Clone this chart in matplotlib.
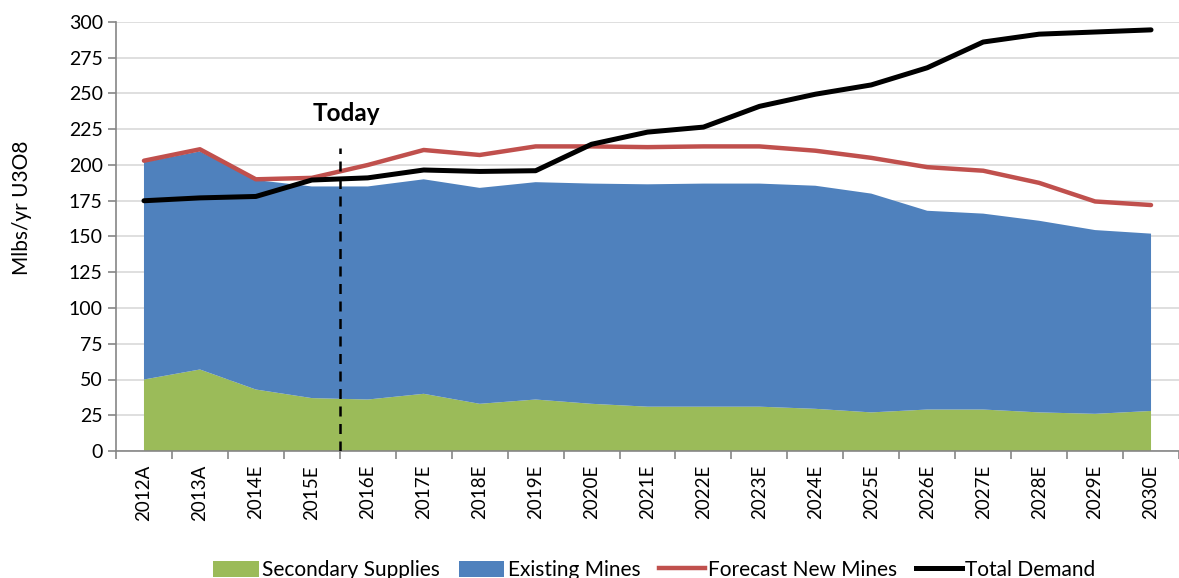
import matplotlib.pyplot as plt
from matplotlib.patches import Patch
from matplotlib.lines import Line2D

years = ["2012A", "2013A", "2014E", "2015E", "2016E", "2017E", "2018E", "2019E", "2020E",
         "2021E", "2022E", "2023E", "2024E", "2025E", "2026E", "2027E", "2028E", "2029E", "2030E"]

secondarySupplies = [50, 57, 43, 37, 36, 40, 33, 36, 33, 31, 31, 31, 29.5, 27, 29, 29, 27, 26, 28]
existingMines = [152, 152.5, 146.5, 148, 149, 150, 151, 152, 154, 155.5, 156, 156, 156, 153, 139, 137, 134, 128.5, 124]
forecastNewMines = [203, 211, 190, 191, 200, 210.5, 207, 213, 213, 212.5, 213, 213, 210, 205, 198.5, 196, 187.5, 174.5, 172]
totalDemand = [175, 177, 178, 189.5, 191, 196.5, 195.5, 196, 214.5, 223, 226.5, 241, 249.5, 256, 268, 286, 291.5, 293, 294.5]

todayPosition = 3.5
todayLabel = "Today"

plt.rcParams['font.family'] = ['Lato', 'DejaVu Sans']

fig = plt.figure(figsize=(11.79, 5.78), dpi=100)
ax = fig.add_axes([116 / 1179, 1 - 451 / 578, 1 - 116 / 1179, (451 - 22) / 578])

x = list(range(len(years)))
ax.stackplot(x, secondarySupplies, existingMines, colors=["#9BBB59", "#4F81BD"], zorder=2)
ax.plot(x, forecastNewMines, color="#C0504D", linewidth=3.2, solid_capstyle='round', zorder=3)
ax.plot(x, totalDemand, color="black", linewidth=3.6, solid_capstyle='round', zorder=4)

# vertical "Today" marker
ax.plot([todayPosition, todayPosition], [0, 212], color="black", linestyle=(0, (4, 3)), linewidth=1.8, zorder=5)
ax.text(todayPosition + 0.12, 236, todayLabel, ha='center', va='center', fontsize=17.5, fontweight='bold')

ax.set_xlim(-0.5, 18.34)
ax.set_ylim(0, 300)
ax.set_yticks(range(0, 301, 25))
ax.yaxis.grid(True, color="#d9d9d9", linewidth=1.2, zorder=0)
ax.set_axisbelow(True)

ax.set_xticks(x)
ax.set_xticklabels(years, rotation=90, fontsize=13.5)
ax.set_xticks([i - 0.5 for i in range(len(years) + 1)], minor=True)
ax.tick_params(axis='x', which='major', length=0, pad=10)
ax.tick_params(axis='x', which='minor', length=6, color="#868686", width=1.2)
ax.tick_params(axis='y', length=6, color="#868686", width=1.2, labelsize=14)

for side in ['top', 'right']:
    ax.spines[side].set_visible(False)
for side in ['left', 'bottom']:
    ax.spines[side].set_color("#868686")
    ax.spines[side].set_linewidth(1.2)

fig.text(22 / 1179, 1 - 208 / 578, "Mlbs/yr U3O8", rotation=90, ha='center', va='center', fontsize=15)

handles = [
    Patch(facecolor="#9BBB59", label="Secondary Supplies"),
    Patch(facecolor="#4F81BD", label="Existing Mines"),
    Line2D([], [], color="#C0504D", linewidth=3.2, label="Forecast New Mines"),
    Line2D([], [], color="black", linewidth=3.6, label="Total Demand"),
]
fig.legend(handles=handles, loc='center', bbox_to_anchor=(654 / 1179, 1 - 570 / 578), ncol=4,
           frameon=False, fontsize=15, handlelength=2.2, handleheight=0.8, handletextpad=0.15,
           columnspacing=0.9)

fig.savefig("out.png", dpi=100)
